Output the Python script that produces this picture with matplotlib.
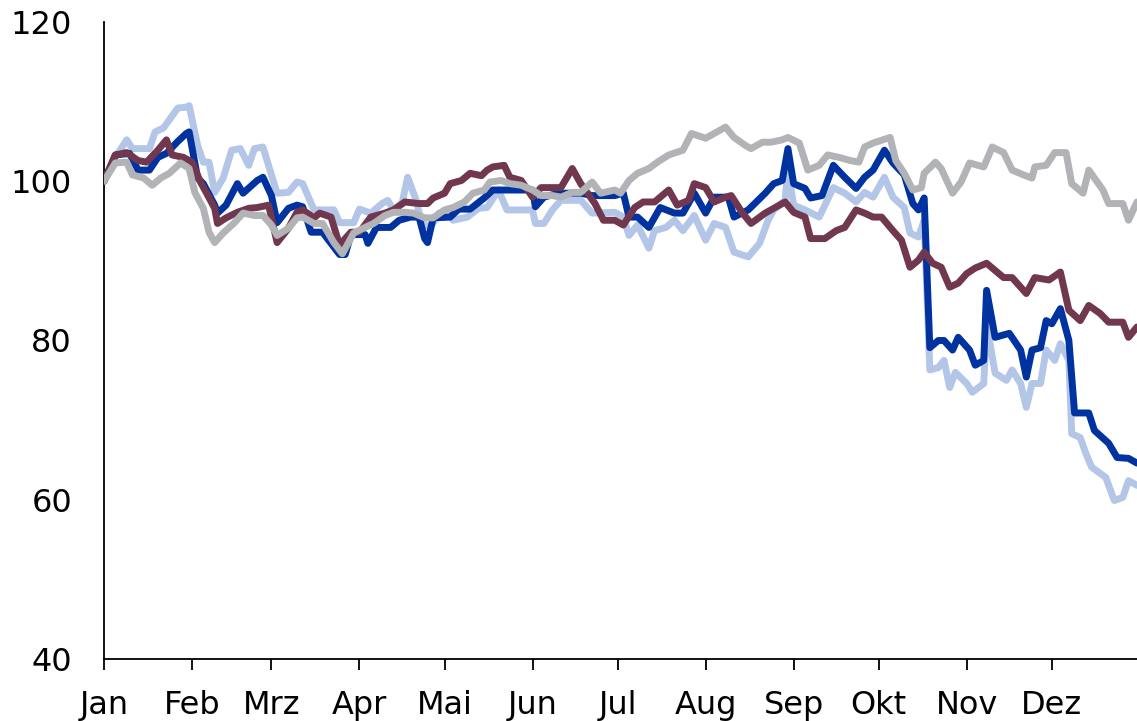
import matplotlib
matplotlib.use("Agg")
import matplotlib.pyplot as plt

# Month ticks (day of year) and labels
month_days = [0, 31, 59, 90, 120, 151, 181, 212, 243, 273, 304, 334]
month_labels = ["Jan", "Feb", "Mrz", "Apr", "Mai", "Jun", "Jul", "Aug", "Sep", "Okt", "Nov", "Dez"]
y_ticks = [40, 60, 80, 100, 120]

# Series 1: dark blue
db_days = [0,4,9,12,16,19,22,26,29,30, 33,35,39,40,43,47,49,54,56,59,
           61,65,68,70,73,77,83,85,87,92, 93,96,101,104,108,111,113,114,116,122,
           125,129,134,137,142,145,151,152,155,160, 168,172,180,183,185,188,192,196,201,204,
           208,212,215,220,222,227,233,236,239,241, 243,247,249,253,257,261,265,268,271,275,
           278,282,285,287,289,291,294,296,299,301, 305,307,310,311,314,319,323,325,327,330,
           332,334,337,340,342,347,349,354,357,361, 364]
db_vals = [100,103.3,103.5,101.4,101.4,103,103.5,105,106,106.2, 100.4,99.7,97,96,97,99.7,98.5,100.1,100.5,98.2,
           94.8,96.6,97,96.8,93.6,93.6,90.8,90.8,93.3,93.3, 92.2,94.2,94.2,95.1,95.5,95.5,92.8,92.3,95.4,95.5,
           96.5,96.5,97.9,98.9,98.9,98.9,98.9,96.8,98,98.5, 98.5,98.2,98.2,98.5,95.5,95.5,94.2,96.7,96,96,
           98.5,96,98,98,95.5,96.4,98.5,99.7,100.1,104.1, 99.7,99.1,97.9,98.2,102,100.5,99.1,100.5,101.4,103.9,
           102.3,100.8,97.2,96.4,97.9,79.1,80,80,78.8,80.4, 78.8,76.9,77.5,86.3,80.4,80.9,78.8,75.4,78.8,79.1,
           82.5,82.1,84,80,70.9,70.9,68.7,67.1,65.3,65.2, 64.6]

# Series 2: light blue
lb_days = [0,4,8,10,16,18,21,23,26,29, 30,33,35,37,39,42,45,48,51,53,
           56,59,61,65,68,70,74,81,83,88, 90,94,98,100,102,105,107,110,112,115,
           118,121,123,128,132,135,139,142,151,152, 155,158,161,168,172,180,183,185,188,192,
           194,198,201,204,208,212,215,219,222,227, 231,234,236,240,241,243,247,252,257,261,
           265,268,271,275,278,282,284,287,289,291, 294,296,298,300,304,306,310,311,314,318,
           320,323,325,327,330,332,335,337,340,341, 344,346,348,353,356,359,361,364]
lb_vals = [100,103,105.2,104.1,104.1,106.2,106.7,107.7,109.2,109.3, 109.5,104.5,102.4,102.4,98.6,100.4,103.9,104.1,102,104.1,
           104.3,100.8,98.5,98.6,99.9,99.7,96.4,96.4,94.8,94.8, 96.5,96,97.2,97.6,96.4,97.2,100.5,97.6,94.7,94.2,
           96,96,95.1,95.5,96.6,96.7,98.9,96.4,96.4,94.7, 94.7,96.4,97.6,97.6,96,96.1,95.5,93.2,94.5,91.6,
           93.8,94.2,95.1,93.8,95.7,92.6,94.7,94.2,91.1,90.5, 92.2,95.1,96.4,97.6,101.6,97,96.4,95.5,99.2,98.5,
           97.4,98.6,98,100.5,98,96.7,93.5,93,95.1,76.3, 76.6,77.5,74.1,76,74.6,73.5,74.6,82.1,75.9,75,
           76.3,74.6,71.6,74.6,74.6,78.8,77.5,79.6,77.5,68.3, 67.8,65.8,64.1,62.8,59.9,60.3,62.4,61.8]

# Series 3: maroon
mr_days = [0,4,8,12,15,19,22,24,28,31, 34,36,39,40,43,47,51,54,58,59,
           61,65,68,70,74,76,80,83,87,90, 94,99,102,106,111,114,116,120,122,126,
           129,133,135,137,141,143,147,151,154,161, 165,168,173,176,180,183,187,190,194,199,
           202,206,208,212,215,219,221,225,228,233, 238,240,243,247,249,254,258,261,265,268,
           271,274,278,281,284,287,289,292,295,298, 301,304,307,311,314,317,320,325,328,333,
           337,340,344,347,351,354,359,361,364]
mr_vals = [100,103.3,103.6,102.6,102.4,103.9,105.2,103.3,103,102.4, 99.9,98.6,96.6,94.7,95.4,96.1,96.6,96.7,97,95.4,
           92.3,94.1,96.1,96.4,95.4,96,95.5,92,93.6,93.6, 95.5,96,96.4,97.4,97.2,97.2,97.9,98.5,99.7,100.1,
           101,100.7,101.4,101.8,102,100.5,100.1,98,99.2,99.2, 101.6,99.7,97.2,95.1,95.1,94.5,96.7,97.4,97.4,98.9,
           97,97.6,99.7,99.2,97.4,98,98.2,96,94.7,96, 97,97.4,96.1,95.5,92.8,92.8,93.8,94.2,96.4,96,
           95.5,95.5,93.8,92.6,89.2,90.1,91.1,89.7,89.2,86.7, 87.2,88.4,89.1,89.7,88.8,87.9,87.9,85.9,87.9,87.6,
           88.6,83.8,82.5,84.4,83.4,82.3,82.3,80.4,81.7]

# Series 4: gray
gr_days = [0,4,8,10,14,17,20,23,27,30, 32,35,37,39,42,46,49,53,56,59,
           61,65,68,70,74,77,81,84,88,92, 95,99,102,106,109,113,116,120,123,127,
           130,134,136,140,143,147,151,154,158,161, 165,168,172,175,180,182,185,188,192,195,
           199,204,207,212,215,219,222,226,228,232, 235,239,241,245,248,252,255,259,263,266,
           268,271,277,279,282,285,288,289,293,295, 299,302,305,310,313,317,320,324,327,328,
           332,335,339,341,345,347,352,354,359,361, 364]
gr_vals = [100,102.3,102.4,100.8,100.4,99.5,100.4,101,102.3,101.6, 98.6,96.6,93.6,92.3,93.5,94.8,96,95.7,95.7,94.5,
           93.2,94.1,95.4,95.5,94.7,94.7,92.3,90.9,93.5,94.2, 94.7,95.7,96.1,96.1,96,95.4,95.4,96.4,96.7,97.4,
           98.5,98.9,99.9,100.1,99.7,99.5,98.9,98.2,98.2,98, 98.6,98.6,99.9,98.5,98.9,98.5,100.1,101,101.6,102.4,
           103.3,103.9,106,105.4,106,106.8,105.5,104.5,104.1,104.9, 104.9,105.2,105.5,104.8,101.4,102,103.3,103,102.6,102.4,
           104.3,104.8,105.5,102.6,101,98.9,99.2,101,102.4,101.6, 98.5,99.9,102.3,101.8,104.3,103.6,101.4,100.8,100.4,101.8,
           102,103.6,103.6,99.7,98.5,101.4,98.9,97.2,97.2,95.1, 97.4]

plt.rcParams['font.family'] = ['DejaVu Sans']

fig = plt.figure(figsize=(11.37, 7.21), dpi=100)
ax = fig.add_axes([104/1137, 1 - 659/721, 1 - 104/1137, (659 - 22)/721])

lw = 5.0
ax.plot(lb_days, lb_vals, color="#B4C6E7", lw=lw, solid_joinstyle="round", solid_capstyle="round", zorder=2)
ax.plot(db_days, db_vals, color="#0033A0", lw=lw, solid_joinstyle="round", solid_capstyle="round", zorder=3)
ax.plot(mr_days, mr_vals, color="#70374F", lw=lw, solid_joinstyle="round", solid_capstyle="round", zorder=4)
ax.plot(gr_days, gr_vals, color="#B1B3B6", lw=lw, solid_joinstyle="round", solid_capstyle="round", zorder=5)

ax.set_xlim(0, 364)
ax.set_ylim(40, 120)
ax.set_xticks(month_days)
ax.set_xticklabels(month_labels)
ax.set_yticks(y_ticks)
ax.set_yticklabels([str(v) for v in y_ticks])

for s in ["top", "right"]:
    ax.spines[s].set_visible(False)
for s in ["left", "bottom"]:
    ax.spines[s].set_linewidth(1.3)
    ax.spines[s].set_color("black")

ax.tick_params(axis="x", direction="out", length=8, width=1.3, pad=14, labelsize=23, colors="black")
ax.tick_params(axis="y", length=0, pad=23, labelsize=23, colors="black")

fig.savefig("out.png", dpi=100)
